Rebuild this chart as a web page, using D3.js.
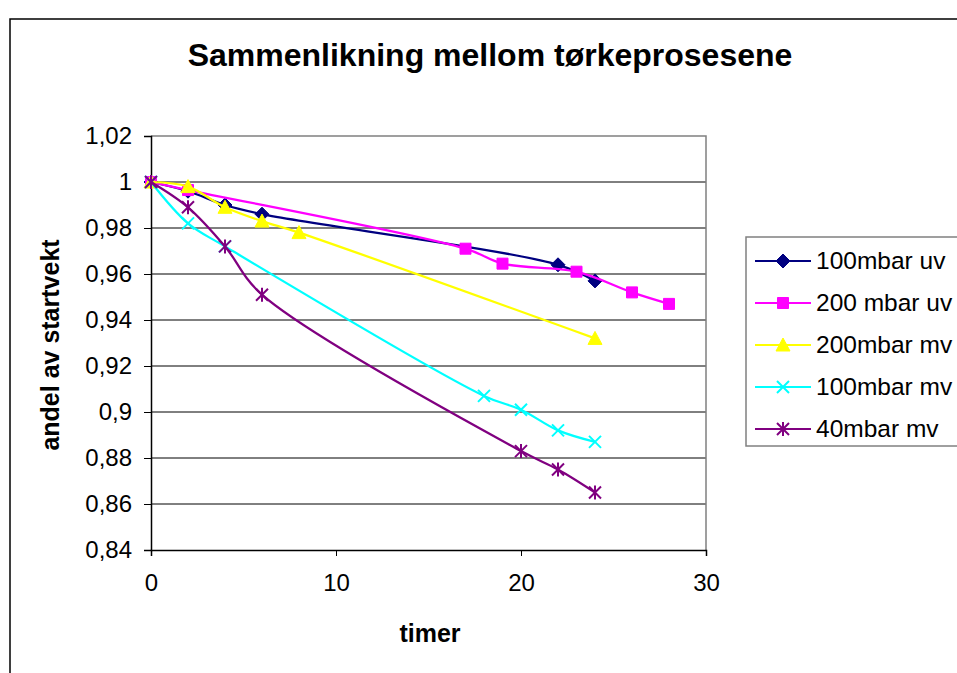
<!DOCTYPE html>
<html>
<head>
    <title>Sammenlikning mellom tørkeprosesene</title>
    <script src="https://d3js.org/d3.v7.min.js"></script>
    <style>
        body { margin: 0; background-color: #ffffff; }
        svg { display: block; font-family: "Liberation Sans", Arial, sans-serif; }
    </style>
</head>
<body>
    <svg id="chart" width="957" height="673"></svg>
    <script>
        // data
        var xTicks = [0, 10, 20, 30];
        var yTicks = [0.84, 0.86, 0.88, 0.90, 0.92, 0.94, 0.96, 0.98, 1.00, 1.02];

        var uv100Hours = [0, 2, 4, 6, 22, 24];
        var uv100Vals = [1, 0.996, 0.990, 0.986, 0.964, 0.957];

        var uv200Hours = [0, 2, 17, 19, 23, 26, 28];
        var uv200Vals = [1, 0.9965, 0.971, 0.9645, 0.961, 0.952, 0.947];

        var mv200Hours = [0, 2, 4, 6, 8, 24];
        var mv200Vals = [1, 0.998, 0.989, 0.983, 0.978, 0.932];

        var mv100Hours = [0, 2, 4, 18, 20, 22, 24];
        var mv100Vals = [1, 0.982, 0.972, 0.907, 0.901, 0.892, 0.887];

        var mv40Hours = [0, 2, 4, 6, 20, 22, 24];
        var mv40Vals = [1, 0.989, 0.972, 0.951, 0.883, 0.875, 0.865];

        var seriesNames = ["100mbar uv", "200 mbar uv", "200mbar mv", "100mbar mv", "40mbar mv"];
        var seriesColors = ["#000080", "#ff00ff", "#ffff00", "#00ffff", "#800080"];
        var seriesMarkers = ["diamond", "square", "triangle", "x", "star"];

        function zip(xs, ys) {
            return xs.map(function(x, i) { return { x: x, y: ys[i] }; });
        }
        var series = [
            zip(uv100Hours, uv100Vals),
            zip(uv200Hours, uv200Vals),
            zip(mv200Hours, mv200Vals),
            zip(mv100Hours, mv100Vals),
            zip(mv40Hours, mv40Vals)
        ];

        var svg = d3.select("#chart");

        var plotLeft = 151, plotRight = 706, plotTop = 136, plotBottom = 550;

        var xScale = d3.scaleLinear().domain([0, 30]).range([plotLeft, plotRight]);
        var yScale = d3.scaleLinear().domain([0.84, 1.02]).range([plotBottom, plotTop]);

        // outer frame
        svg.append("rect")
            .attr("x", 10).attr("y", 19)
            .attr("width", 1000).attr("height", 700)
            .attr("fill", "none").attr("stroke", "#000").attr("stroke-width", 1.5);

        // title
        svg.append("text")
            .attr("x", 490).attr("y", 66)
            .attr("text-anchor", "middle")
            .style("font-size", "32px").style("font-weight", "bold")
            .text("Sammenlikning mellom tørkeprosesene");

        // gridlines
        svg.append("g").selectAll("line")
            .data(yTicks.slice(1, -1))
            .enter().append("line")
            .attr("x1", plotLeft).attr("x2", plotRight)
            .attr("y1", function(d) { return yScale(d); })
            .attr("y2", function(d) { return yScale(d); })
            .attr("stroke", "#000").attr("stroke-width", 1);

        // plot frame (top & right grey)
        svg.append("path")
            .attr("d", "M" + plotLeft + "," + plotTop + "H" + plotRight + "V" + plotBottom)
            .attr("fill", "none").attr("stroke", "#808080").attr("stroke-width", 1.5);

        var fmt = function(d) { return d3.format(".2~f")(d).replace(".", ","); };

        var yAxis = svg.append("g")
            .attr("transform", "translate(" + plotLeft + ",0)")
            .call(d3.axisLeft(yScale).tickValues(yTicks).tickFormat(fmt).tickSize(7).tickPadding(12));
        var xAxis = svg.append("g")
            .attr("transform", "translate(0," + plotBottom + ")")
            .call(d3.axisBottom(xScale).tickValues(xTicks).tickSize(6).tickPadding(18));

        [xAxis, yAxis].forEach(function(a) {
            a.select(".domain").attr("stroke", "#000").attr("stroke-width", 1.5);
            a.selectAll(".tick line").attr("stroke", "#000");
            a.selectAll("text").style("font-size", "24px").style("font-family", "Liberation Sans, Arial, sans-serif").attr("fill", "#000");
        });

        // axis titles
        svg.append("text")
            .attr("x", 430).attr("y", 642)
            .attr("text-anchor", "middle")
            .style("font-size", "25px").style("font-weight", "bold")
            .text("timer");
        svg.append("text")
            .attr("transform", "translate(59," + 345 + ") rotate(-90)")
            .attr("text-anchor", "middle")
            .style("font-size", "25px").style("font-weight", "bold")
            .text("andel av startvekt");

        function markerPath(type, s) {
            var h = s / 2;
            if (type === "diamond") return "M0," + (-h - 1) + "L" + (h + 1) + ",0L0," + (h + 1) + "L" + (-h - 1) + ",0Z";
            if (type === "square") return "M" + (-h) + "," + (-h) + "H" + h + "V" + h + "H" + (-h) + "Z";
            if (type === "triangle") return "M0," + (-h - 1) + "L" + (h + 1) + "," + (h) + "L" + (-h - 1) + "," + (h) + "Z";
            if (type === "x") return "M" + (-h) + "," + (-h) + "L" + h + "," + h + "M" + (-h) + "," + h + "L" + h + "," + (-h);
            // star: x plus vertical bar
            return "M" + (-h) + "," + (-h) + "L" + h + "," + h + "M" + (-h) + "," + h + "L" + h + "," + (-h) + "M0," + (-h - 1) + "V" + (h + 1);
        }

        function drawMarker(g, type, color) {
            var filled = type === "diamond" || type === "square" || type === "triangle";
            g.append("path")
                .attr("d", markerPath(type, type === "square" ? 11 : 12))
                .attr("fill", filled ? color : "none")
                .attr("stroke", color)
                .attr("stroke-width", filled ? 1 : 2);
        }

        var line = d3.line()
            .x(function(d) { return xScale(d.x); })
            .y(function(d) { return yScale(d.y); })
            .curve(d3.curveCatmullRom.alpha(0.5));

        series.forEach(function(data, i) {
            var g = svg.append("g");
            g.append("path")
                .datum(data)
                .attr("d", line)
                .attr("fill", "none")
                .attr("stroke", seriesColors[i])
                .attr("stroke-width", 2.25);
            g.selectAll("g.pt")
                .data(data)
                .enter().append("g")
                .attr("class", "pt")
                .attr("transform", function(d) { return "translate(" + xScale(d.x) + "," + yScale(d.y) + ")"; })
                .each(function() { drawMarker(d3.select(this), seriesMarkers[i], seriesColors[i]); });
        });

        // legend
        var legend = svg.append("g").attr("transform", "translate(746,237)");
        legend.append("rect")
            .attr("width", 260).attr("height", 209)
            .attr("fill", "#fff").attr("stroke", "#808080").attr("stroke-width", 1.5);
        seriesNames.forEach(function(name, i) {
            var y = 24 + i * 42;
            var row = legend.append("g").attr("transform", "translate(0," + y + ")");
            row.append("line")
                .attr("x1", 9).attr("x2", 65)
                .attr("stroke", seriesColors[i]).attr("stroke-width", 2);
            var m = row.append("g").attr("transform", "translate(37,0)");
            drawMarker(m, seriesMarkers[i], seriesColors[i]);
            row.append("text")
                .attr("x", 70).attr("y", 8)
                .style("font-size", "24.5px")
                .text(name);
        });
    </script>
</body>
</html>
